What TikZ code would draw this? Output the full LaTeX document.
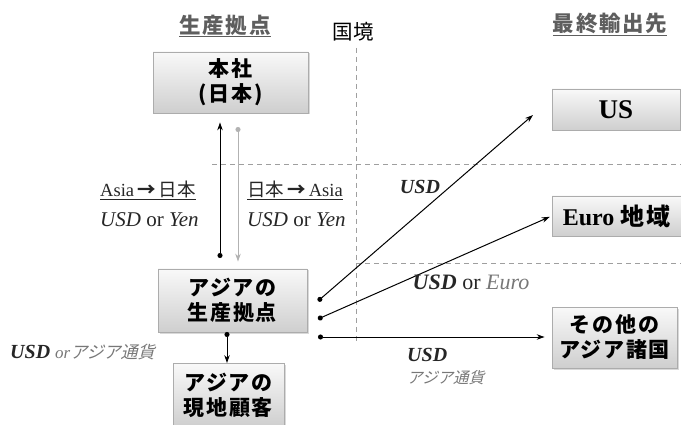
\documentclass[tikz,border=0pt]{standalone}
\usepackage{fontspec}
\setmainfont{Liberation Serif}
\newfontfamily\cjk{Noto Sans CJK JP}[LetterSpace=8]
\newfontfamily\cjkplain{Noto Sans CJK JP}
\newfontfamily\cjkit{Noto Sans CJK JP}[FakeSlant=0.25]
\usetikzlibrary{shadows,arrows.meta}
\definecolor{txtgray}{HTML}{777777}
\definecolor{titlegray}{HTML}{5E5E5E}
\begin{document}
\begin{tikzpicture}[x=1pt,y=-1pt,
  box/.style={draw=gray!65, line width=0.8pt, top color=gray!5, bottom color=gray!38,
    drop shadow={shadow xshift=1.5pt, shadow yshift=-1.5pt, opacity=0.3},
    align=center, inner sep=0pt, text=black},
  jp/.style={font=\cjk\bfseries\fontsize{21}{25}\selectfont},
  arrdot/.style={arrows={Circle[length=5pt]-Stealth[length=8pt,width=5.5pt]}, line width=1pt},
  dashline/.style={draw=gray!75, dash pattern=on 5pt off 4pt, line width=0.8pt},
  title/.style={font=\cjk\bfseries\fontsize{21.5}{21.5}\selectfont, text=titlegray},
  lab/.style={font=\fontsize{20}{20}\selectfont, text=black!85, inner sep=0pt}
]
\useasboundingbox (0,0) rectangle (681,425);

% dashed border lines
\draw[dashline] (356,48) -- (356,342);
\draw[dashline] (212,164) -- (681,164);
\draw[dashline] (356,263) -- (681,263);

% titles
\node[title] (t1) at (225,26) {\underline{生産拠点}};
\node[title] (t2) at (610,24) {\underline{最終輸出先}};
\node[font=\cjkplain\fontsize{20.5}{20.5}\selectfont] (border) at (353,32) {国境};

% boxes
\node[box,jp,minimum width=155pt,minimum height=61pt] (hq) at (230.5,82.5) {本社\\(日本)};
\node[box,jp,minimum width=149pt,minimum height=63pt] (prod) at (232.5,300.5) {アジアの\\生産拠点};
\node[box,jp,minimum width=111pt,minimum height=63pt] (loc) at (228.5,395) {アジアの\\現地顧客};
\node[box,minimum width=128pt,minimum height=41pt,font=\bfseries\fontsize{27}{27}\selectfont] (us) at (616,109.5) {US};
\node[box,minimum width=129pt,minimum height=40pt,font=\bfseries\fontsize{24}{24}\selectfont] (euro) at (616.5,216) {Euro {\cjk\bfseries 地域}};
\node[box,jp,minimum width=125pt,minimum height=61pt] (other) at (614.5,337.5) {その他の\\アジア諸国};

% connectors
\coordinate (upS) at (220,258);
\coordinate (dnS) at (238,127);
\draw[arrdot, shorten >=9pt] (upS) -- (upS |- hq.south);
\draw[arrdot, draw=gray!60, fill=gray!60, shorten >=7pt] (dnS) -- (dnS |- prod.north);
\coordinate (dd) at (227,332);
\draw[arrdot] (dd) -- (dd |- loc.north);
\coordinate (r1) at (318,301);
\coordinate (r2) at (318,319);
\coordinate (r3) at (318,337);
\coordinate (usend) at (533,115);
\draw[arrdot] (r1) -- (usend);
\draw[arrdot, shorten >=2pt] (r2) -- (euro.west);
\draw[arrdot, shorten >=7pt] (r3) -- (r3 -| other.west);

% labels
\node[lab, anchor=west, font=\fontsize{18.5}{18.5}\selectfont] (la1) at (100,190) {\underline{Asia\,{\cjkplain\bfseries →}\,{\cjkplain 日本}}};
\node[lab, anchor=west, font=\fontsize{21}{21}\selectfont] (la2) at (100,220) {\textit{USD} or \textit{Yen}};
\node[lab, anchor=west, font=\fontsize{18.5}{18.5}\selectfont] (lb1) at (247,190) {\underline{{\cjkplain 日本}\,{\cjkplain\bfseries →}\,Asia}};
\node[lab, anchor=west, font=\fontsize{21}{21}\selectfont] (lb2) at (247,220) {\textit{USD} or \textit{Yen}};
\node[lab] (lus) at (420,187) {\bfseries\itshape USD};
\node[lab, font=\fontsize{22}{22}\selectfont] (leu) at (471,282) {\textbf{\textit{USD}} or {\itshape\color{txtgray}Euro}};
\node[lab, anchor=west] (lot1) at (407,355) {\bfseries\itshape USD};
\node[lab, anchor=west, font=\cjkit\fontsize{15.5}{15.5}\selectfont, text=txtgray] (lot2) at (407,378) {アジア通貨};
\node[lab, anchor=west] (lloc) at (10,352) {\bfseries\itshape USD {\mdseries\color{txtgray}\fontsize{17}{17}\selectfont or{\cjkit アジア通貨}}};
\end{tikzpicture}
\end{document}
